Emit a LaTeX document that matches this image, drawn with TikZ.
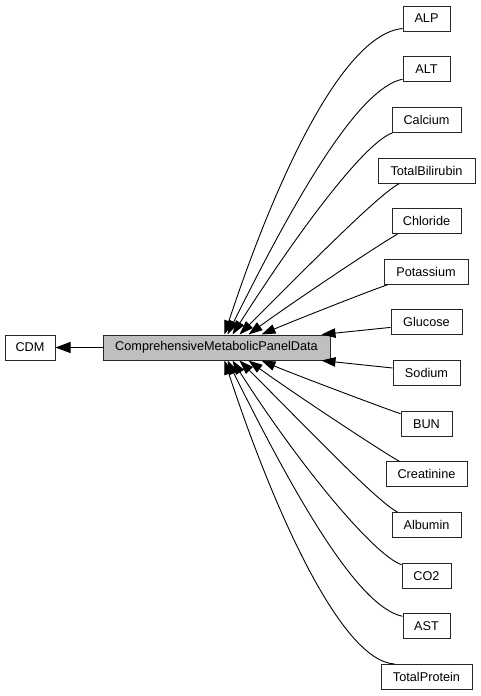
\documentclass[tikz,border=0pt]{standalone}
\usepackage{fontspec}
\setmainfont{Liberation Sans}
\usetikzlibrary{arrows.meta,calc}
\begin{document}
\begin{tikzpicture}[x=1pt,y=-1pt,
  box/.style={draw=black!85,line width=1pt,fill=white,minimum height=25pt,inner sep=0pt,
    font=\fontsize{12.7}{15}\selectfont},
  mainbox/.style={box,fill=black!25},
  edge/.style={line width=0.9pt,-{Triangle[length=14pt,width=9.5pt]}}]
\useasboundingbox (0,0) rectangle (480,696);
\node[box,minimum width=50pt] (CDM) at (30,347.5) {CDM};
\node[mainbox,minimum width=227pt] (cmp) at (216.5,347.5) {ComprehensiveMetabolicPanelData};
\node[box,minimum width=47pt] (ALP) at (426.5,18.5) {ALP};
\node[box,minimum width=47pt] (ALT) at (426.5,69.2) {ALT};
\node[box,minimum width=69pt] (Calcium) at (426.5,119.8) {Calcium};
\node[box,minimum width=97pt] (TB) at (426.5,170.5) {TotalBilirubin};
\node[box,minimum width=69pt] (Chloride) at (426.5,221.1) {Chloride};
\node[box,minimum width=84pt] (Potassium) at (426,271.8) {Potassium};
\node[box,minimum width=71pt] (Glucose) at (426.5,322.4) {Glucose};
\node[box,minimum width=67pt] (Sodium) at (426.5,373) {Sodium};
\node[box,minimum width=51pt] (BUN) at (426.5,423.7) {BUN};
\node[box,minimum width=81pt] (Creatinine) at (426.5,474.4) {Creatinine};
\node[box,minimum width=69pt] (Albumin) at (426.5,525) {Albumin};
\node[box,minimum width=49pt] (CO2) at (426.5,575.7) {CO2};
\node[box,minimum width=47pt] (AST) at (426.5,626.3) {AST};
\node[box,minimum width=91pt] (TP) at (426.5,677) {TotalProtein};
% edge to CDM
\draw[line width=1pt,-{Triangle[length=15pt,width=11pt]}] (cmp.west) -- (CDM.east);
% top edges
\draw[edge] ($(ALP.south west)+(0,-3)$) .. controls +(-62,6) and +(48,-146) .. ($(cmp.north west)+(122,0)$);
\draw[edge] ($(ALT.south west)+(0,-3)$) .. controls +(-43,9) and +(72,-145) .. ($(cmp.north west)+(125,0)$);
\draw[edge] ($(Calcium.south west)+(1,0)$) .. controls +(-28,10) and +(67,-105) .. ($(cmp.north west)+(130,0)$);
\draw[edge] ($(TB.south west)+(22,0)$) .. controls +(-20,10) and +(70,-70) .. ($(cmp.north west)+(137,0)$);
\draw[edge] ($(Chloride.south west)+(6,0)$) .. controls +(-18,10) and +(41,-30) .. ($(cmp.north west)+(146,0)$);
\draw[edge] ($(Potassium.south west)+(4,0)$) .. controls +(-18,6) and +(28,-12) .. ($(cmp.north west)+(159,0)$);
\draw[edge] ($(Glucose.west)+(0,5)$) -- ($(cmp.north west)+(219,0)$);
% bottom edges
\draw[edge] ($(Sodium.west)+(0,-5)$) -- ($(cmp.south west)+(219,0)$);
\draw[edge] ($(BUN.north west)+(0,3)$) .. controls +(-18,-6) and +(28,12) .. ($(cmp.south west)+(159,0)$);
\draw[edge] ($(Creatinine.north west)+(14,0)$) .. controls +(-18,-10) and +(41,30) .. ($(cmp.south west)+(146,0)$);
\draw[edge] ($(Albumin.north west)+(6,0)$) .. controls +(-20,-10) and +(70,70) .. ($(cmp.south west)+(137,0)$);
\draw[edge] ($(CO2.north west)+(0,2)$) .. controls +(-28,-10) and +(67,105) .. ($(cmp.south west)+(130,0)$);
\draw[edge] ($(AST.north west)+(0,3)$) .. controls +(-43,-9) and +(72,145) .. ($(cmp.south west)+(125,0)$);
\draw[edge] ($(TP.north west)+(14,0)$) .. controls +(-54,-3) and +(48,146) .. ($(cmp.south west)+(122,0)$);
\end{tikzpicture}
\end{document}
